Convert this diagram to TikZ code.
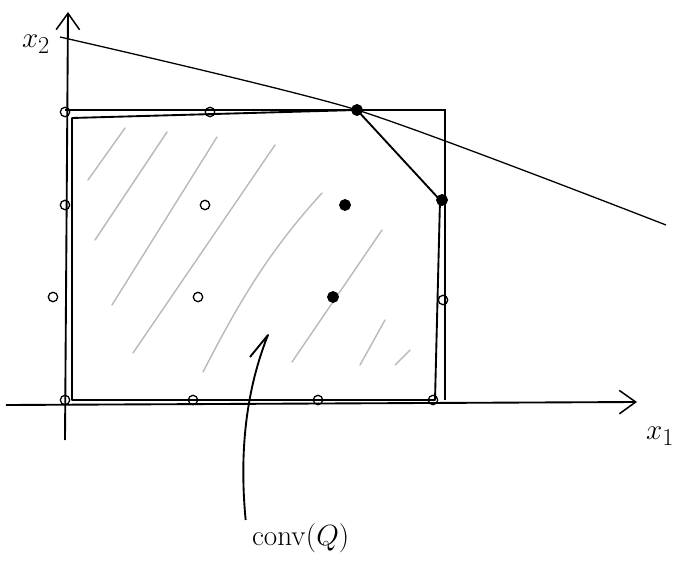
\documentclass[tikz,border=0pt]{standalone}
\usepackage{amsmath}
\usetikzlibrary{arrows.meta,positioning}
\tikzset{
  axis/.style={line width=1.6pt,-{Straight Barb[length=14pt,width=20pt,line width=1.3pt]}},
  hull/.style={line width=1.6pt,line join=round},
  box/.style={line width=1.1pt},
  obj/.style={line width=1.1pt},
  hatch/.style={gray!55,line width=1.2pt,line cap=round},
  lattice/.style={circle,draw,line width=1.1pt,inner sep=0pt,minimum size=8pt},
  vertex/.style={lattice,fill=black,minimum size=9pt},
  big/.style={font=\fontsize{30}{34}\selectfont},
}
\begin{document}
\begin{tikzpicture}[x=0.03cm,y=-0.03cm]
    \useasboundingbox (0,0) rectangle (681,573);
    % hatching of the hull
    \foreach \xa/\ya/\xb/\yb in {88/180/125/128, 95/240/167/132, 112/305/217/137,
        133/353/275/145, 292/362/382/230, 360/365/385/320, 395/365/410/350}
      \draw[hatch] (\xa,\ya) -- (\xb,\yb);
    \draw[hatch] (203,372) .. controls (240,300) and (270,250) .. (322,193);
    % axes
    \draw[axis] (65,440) -- (68,12) coordinate (ytip);
    \draw[axis] (6,405) -- (637,402) coordinate (xtip);
    % original box
    \draw[box] (65,110) -- (445,110) -- (445,400);
    % conv(Q)
    \coordinate (v1) at (72,118);
    \coordinate (v2) at (357,110);
    \coordinate (v3) at (440,200);
    \coordinate (v4) at (435,400);
    \coordinate (v5) at (72,400);
    \draw[hull] (v1) -- (v2) -- (v3) -- (v4) -- (v5) -- cycle;
    % objective line
    \draw[obj] plot[smooth,tension=0.4] coordinates {(60,37) (v2) (666,225)};
    % lattice points
    \foreach \x/\y [count=\i] in {65/112, 210/112, 65/205, 205/205, 53/297, 198/297,
        443/300, 65/400, 193/400, 318/400, 433/400}
      \node[lattice] (p\i) at (\x,\y) {};
    \foreach \x/\y [count=\i] in {357/110, 442/200, 345/205, 333/297}
      \node[vertex] (q\i) at (\x,\y) {};
    % labels
    \node[big] (xtwo) at (36,44) {$x_2$};
    \node[big] (xone) at (660,436) {$x_1$};
    \node[big,anchor=north west] (lbl) at (248,520) {$\mathrm{conv}(Q)$};
    \coordinate (tip) at (268,335);
    \coordinate (hook) at (250,357);
    \draw[hull] ([xshift=-2pt]lbl.north west) .. controls (238,440) and (250,380) .. (tip) -- (hook);
\end{tikzpicture}
\end{document}
